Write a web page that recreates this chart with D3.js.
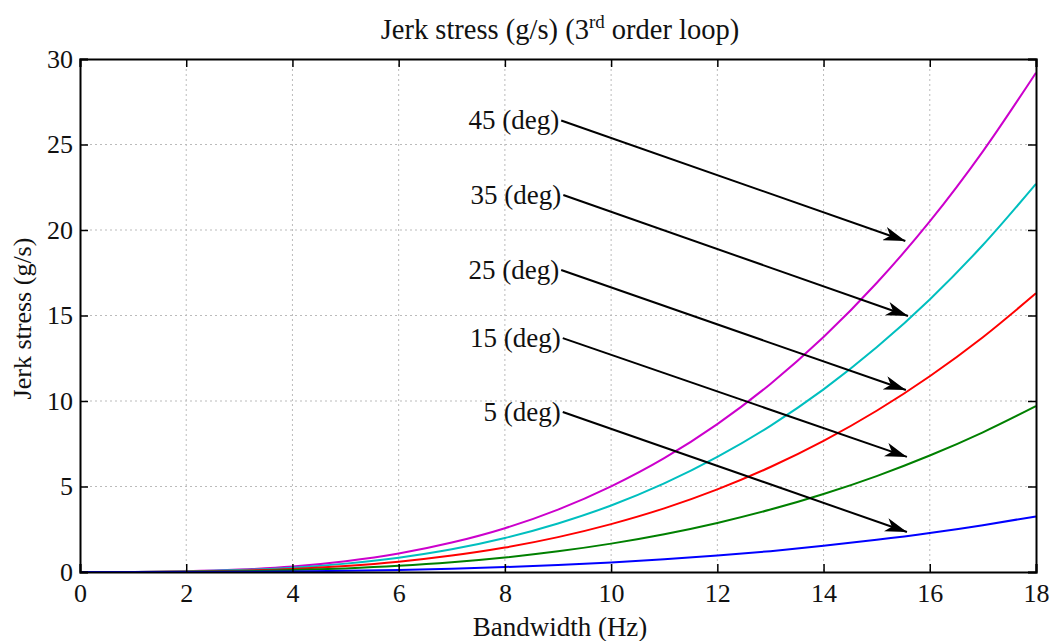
<!doctype html>
<html lang="en">
<head>
  <meta charset="utf-8">
  <title>Jerk stress</title>
  <script src="https://d3js.org/d3.v7.min.js" charset="utf-8"></script>
</head>
<body style="margin:0;background:#fff">
<style>
.chart text {
  font-family: "Liberation Serif", "Times New Roman", serif;
  fill: #111;
}
.grid line {
  stroke: #bbb;
  stroke-dasharray: 2,3;
}
</style>
<svg class="chart" width="1052" height="641"></svg>
<script>
// bandwidth (Hz)
var bandwidth = [0,1,2,3,4,5,6,7,8,9,10,11,12,13,14,15,16,17,18];
// jerk stress (g/s) per phase margin
var jerk45 = [0,0.005,0.04,0.14,0.32,0.63,1.08,1.72,2.56,3.65,5.01,6.66,8.65,11.0,13.74,16.9,20.5,24.6,29.2];
var jerk35 = [0,0.004,0.03,0.11,0.25,0.49,0.84,1.33,1.99,2.84,3.89,5.18,6.73,8.55,10.68,13.14,15.94,19.12,22.7];
var jerk25 = [0,0.003,0.02,0.08,0.18,0.35,0.60,0.96,1.43,2.04,2.80,3.72,4.83,6.14,7.67,9.43,11.45,13.73,16.3];
var jerk15 = [0,0.002,0.01,0.04,0.11,0.21,0.36,0.57,0.85,1.21,1.66,2.21,2.87,3.65,4.56,5.61,6.81,8.17,9.7];
var jerk5  = [0,0.001,0.004,0.015,0.036,0.07,0.12,0.19,0.29,0.41,0.56,0.74,0.96,1.22,1.53,1.88,2.28,2.74,3.25];

var seriesNames = ["45 (deg)","35 (deg)","25 (deg)","15 (deg)","5 (deg)"];
var seriesColors = ["#cc00cc","#00bfbf","#ff0000","#008000","#0000ff"];
// arrow start (label end) and tip, in data units
var arrowFromX = [9.06, 9.1, 9.06, 9.09, 9.09];
var arrowFromY = [26.4, 22.05, 17.66, 13.68, 9.36];
var arrowToX = [15.54, 15.59, 15.55, 15.57, 15.57];
var arrowToY = [19.36, 14.97, 10.64, 6.73, 2.34];

var xTicks = [0,2,4,6,8,10,12,14,16,18];
var yTicks = [0,5,10,15,20,25,30];

var plotLeft = 80, plotRight = 1036, plotTop = 59, plotBottom = 572;

var x = d3.scaleLinear().domain([0,18]).range([plotLeft,plotRight]);
var y = d3.scaleLinear().domain([0,30]).range([plotBottom,plotTop]);

var svg = d3.select(".chart");

var defs = svg.append("defs");
defs.append("marker")
  .attr("id","head")
  .attr("viewBox","0 0 22 14")
  .attr("refX",22).attr("refY",7)
  .attr("markerWidth",22).attr("markerHeight",14)
  .attr("markerUnits","userSpaceOnUse")
  .attr("orient","auto")
  .append("path")
  .attr("d","M0,0 L22,7 L0,14 L6,7 Z")
  .attr("fill","#000");

// grid
var grid = svg.append("g").attr("class","grid");
grid.selectAll(".gx").data(xTicks.slice(1,-1)).enter().append("line")
  .attr("x1",function(d){return x(d);}).attr("x2",function(d){return x(d);})
  .attr("y1",plotTop).attr("y2",plotBottom);
grid.selectAll(".gy").data(yTicks.slice(1,-1)).enter().append("line")
  .attr("y1",function(d){return y(d);}).attr("y2",function(d){return y(d);})
  .attr("x1",plotLeft).attr("x2",plotRight);

// curves
var allSeries = [jerk45, jerk35, jerk25, jerk15, jerk5];
var line = d3.line()
  .x(function(d,i){return x(bandwidth[i]);})
  .y(function(d){return y(d);})
  .curve(d3.curveMonotoneX);
svg.selectAll(".curve").data(allSeries).enter().append("path")
  .attr("class","curve")
  .attr("d",line)
  .attr("fill","none")
  .attr("stroke",function(d,i){return seriesColors[i];})
  .attr("stroke-width",2);

// axes with inward ticks on all sides
function fmt(d){ return d; }
var xAxis = svg.append("g").attr("transform","translate(0,"+plotBottom+")")
  .call(d3.axisBottom(x).tickValues(xTicks).tickSize(-8).tickPadding(12).tickFormat(fmt));
var xTop = svg.append("g").attr("transform","translate(0,"+plotTop+")")
  .call(d3.axisTop(x).tickValues(xTicks).tickSize(-8).tickFormat(""));
var yAxis = svg.append("g").attr("transform","translate("+plotLeft+",0)")
  .call(d3.axisLeft(y).tickValues(yTicks).tickSize(-8).tickPadding(7).tickFormat(fmt));
var yRight = svg.append("g").attr("transform","translate("+plotRight+",0)")
  .call(d3.axisRight(y).tickValues(yTicks).tickSize(-8).tickFormat(""));
[xAxis,xTop,yAxis,yRight].forEach(function(a){
  a.selectAll("path.domain").attr("stroke","#000").attr("stroke-width",2);
  a.selectAll(".tick line").attr("stroke","#000").attr("stroke-width",1.5);
  a.selectAll("text").style("font-family","'Liberation Serif', serif").style("font-size","26px").attr("fill","#111");
});
xAxis.selectAll("text").attr("dy","0.71em");

// arrows and labels
var ann = svg.append("g");
ann.selectAll("line").data(seriesNames).enter().append("line")
  .attr("x1",function(d,i){return x(arrowFromX[i]);})
  .attr("y1",function(d,i){return y(arrowFromY[i]);})
  .attr("x2",function(d,i){return x(arrowToX[i]);})
  .attr("y2",function(d,i){return y(arrowToY[i]);})
  .attr("stroke","#000").attr("stroke-width",2)
  .attr("marker-end","url(#head)");
ann.selectAll("text").data(seriesNames).enter().append("text")
  .attr("x",function(d,i){return x(arrowFromX[i]) - 2;})
  .attr("y",function(d,i){return y(arrowFromY[i]);})
  .attr("dy","0.33em")
  .attr("text-anchor","end")
  .style("font-size","27px")
  .text(function(d){return d;});

// title and labels
var title = svg.append("text")
  .attr("x",(plotLeft+plotRight)/2 + 2).attr("y",39)
  .attr("text-anchor","middle")
  .style("font-size","28.5px");
title.append("tspan").text("Jerk stress (g/s) (3");
title.append("tspan").attr("dy",-11).style("font-size","19px").text("rd");
title.append("tspan").attr("dy",11).text(" order loop)");

svg.append("text")
  .attr("x",(plotLeft+plotRight)/2 + 2).attr("y",636)
  .attr("text-anchor","middle")
  .style("font-size","27px")
  .text("Bandwidth (Hz)");

svg.append("text")
  .attr("transform","translate(31,"+((plotTop+plotBottom)/2 + 3)+") rotate(-90)")
  .attr("text-anchor","middle")
  .style("font-size","26px")
  .text("Jerk stress (g/s)");
</script>
</body>
</html>
